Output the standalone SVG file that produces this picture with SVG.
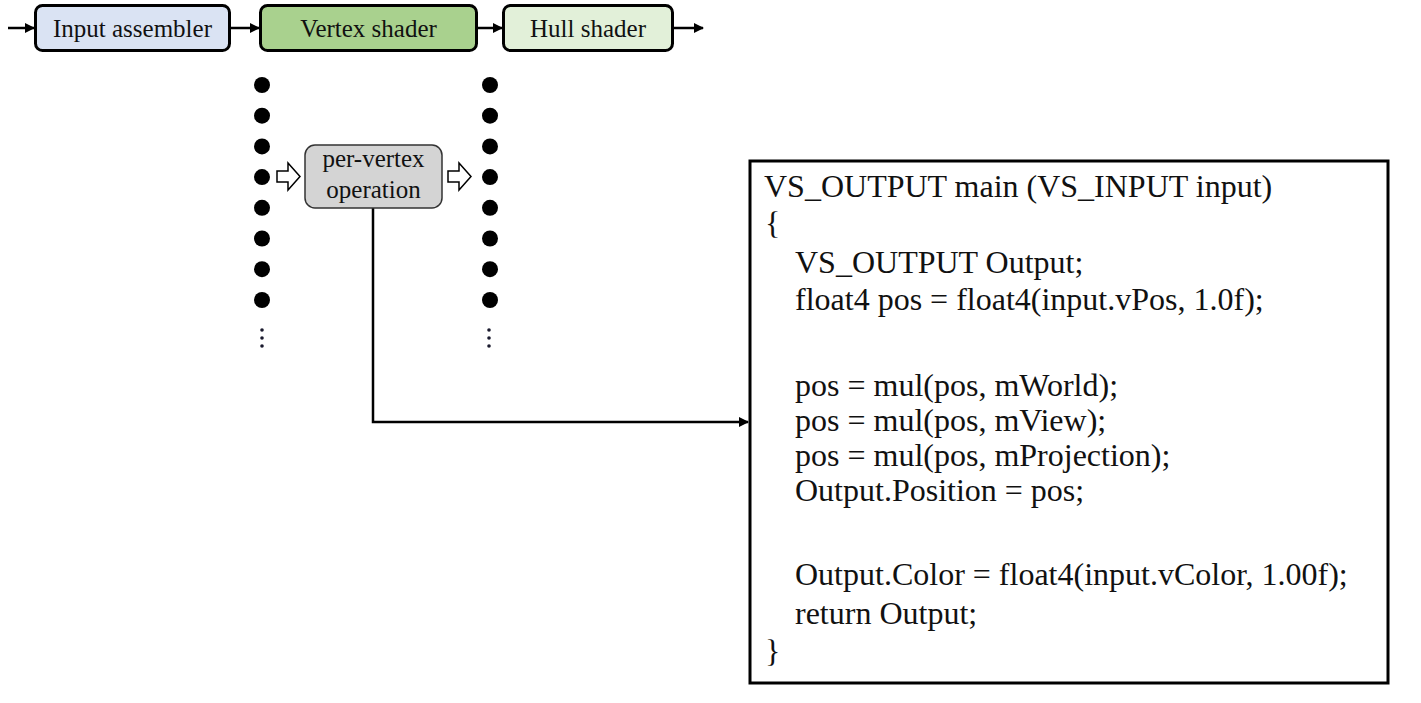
<svg xmlns="http://www.w3.org/2000/svg" width="1421" height="703" viewBox="0 0 1421 703">
<defs>
<style>
.stage{stroke:#000;stroke-width:3}
.lbl{font-size:25px;fill:#111;text-anchor:middle}
.code{font-size:32px;fill:#111}
.dot{fill:#000}
.sdot{fill:#1a1a2e}
.conn{stroke:#000;stroke-width:2.5;fill:none}
.hollow{fill:#fff;stroke:#000;stroke-width:1.5;stroke-linejoin:miter}
</style>
<marker id="ah" markerWidth="10" markerHeight="10" refX="9" refY="5" orient="auto" markerUnits="userSpaceOnUse">
<path d="M0,0 L10,5 L0,10 Z" fill="#000"/>
</marker>
</defs>
<rect width="1421" height="703" fill="#fff"/>

<g id="connectors">
<line class="conn" x1="8" y1="28" x2="34" y2="28" marker-end="url(#ah)"/>
<line class="conn" x1="231" y1="28" x2="259" y2="28" marker-end="url(#ah)"/>
<line class="conn" x1="478" y1="28" x2="502" y2="28" marker-end="url(#ah)"/>
<line class="conn" x1="674" y1="28" x2="703" y2="28" marker-end="url(#ah)"/>
<polyline class="conn" points="373,208 373,422 748,422" marker-end="url(#ah)"/>
<path class="hollow" d="M277,171 L288,171 L288,163 L300,176.5 L288,190 L288,182 L277,182 Z"/>
<path class="hollow" d="M448,171 L459,171 L459,163 L471,176.5 L459,190 L459,182 L448,182 Z"/>
</g>

<g font-family="Liberation Serif, Times New Roman, Tinos, DejaVu Serif, serif">
<g id="input-assembler">
<rect class="stage" x="35.5" y="5.5" width="194" height="45" rx="7" fill="#dae3f3"/>
<text class="lbl" x="132.5" y="36.5">Input assembler</text>
</g>
<g id="vertex-shader">
<rect class="stage" x="260.5" y="5.5" width="216" height="45" rx="7" fill="#a9d18e"/>
<text class="lbl" x="368.5" y="36.5">Vertex shader</text>
</g>
<g id="hull-shader">
<rect class="stage" x="503.5" y="5.5" width="169" height="45" rx="7" fill="#e2f0d9"/>
<text class="lbl" x="588" y="36.5">Hull shader</text>
</g>

<g id="input-vertices">
<circle class="dot" cx="262" cy="85" r="8"/>
<circle class="dot" cx="262" cy="115.7" r="8"/>
<circle class="dot" cx="262" cy="146.4" r="8"/>
<circle class="dot" cx="262" cy="177.1" r="8"/>
<circle class="dot" cx="262" cy="207.8" r="8"/>
<circle class="dot" cx="262" cy="238.5" r="8"/>
<circle class="dot" cx="262" cy="269.2" r="8"/>
<circle class="dot" cx="262" cy="300" r="8"/>
<circle class="sdot" cx="262" cy="330" r="1.8"/>
<circle class="sdot" cx="262" cy="338" r="1.8"/>
<circle class="sdot" cx="262" cy="346" r="1.8"/>
</g>
<g id="output-vertices">
<circle class="dot" cx="490" cy="85" r="8"/>
<circle class="dot" cx="490" cy="115.7" r="8"/>
<circle class="dot" cx="490" cy="146.4" r="8"/>
<circle class="dot" cx="490" cy="177.1" r="8"/>
<circle class="dot" cx="490" cy="207.8" r="8"/>
<circle class="dot" cx="490" cy="238.5" r="8"/>
<circle class="dot" cx="490" cy="269.2" r="8"/>
<circle class="dot" cx="490" cy="300" r="8"/>
<circle class="sdot" cx="489" cy="330" r="1.8"/>
<circle class="sdot" cx="489" cy="338" r="1.8"/>
<circle class="sdot" cx="489" cy="346" r="1.8"/>
</g>

<g id="per-vertex-operation">
<rect x="305" y="145" width="137" height="63" rx="10" fill="#d4d4d4" stroke="#333" stroke-width="1.5"/>
<text class="lbl" x="373.5" y="167">per-vertex</text>
<text class="lbl" x="373.5" y="198">operation</text>
</g>

<g id="code-box">
<rect x="750" y="161" width="638" height="522" fill="#fff" stroke="#000" stroke-width="3"/>
<text class="code" x="764" y="197">VS_OUTPUT main (VS_INPUT input)</text>
<text class="code" x="765" y="234">{</text>
<text class="code" x="795" y="273">VS_OUTPUT Output;</text>
<text class="code" x="795" y="310">float4 pos = float4(input.vPos, 1.0f);</text>
<text class="code" x="795" y="396">pos = mul(pos, mWorld);</text>
<text class="code" x="795" y="431">pos = mul(pos, mView);</text>
<text class="code" x="795" y="466">pos = mul(pos, mProjection);</text>
<text class="code" x="795" y="501">Output.Position = pos;</text>
<text class="code" x="795" y="585">Output.Color = float4(input.vColor, 1.00f);</text>
<text class="code" x="795" y="624">return Output;</text>
<text class="code" x="765" y="662">}</text>
</g>
</g>
</svg>
